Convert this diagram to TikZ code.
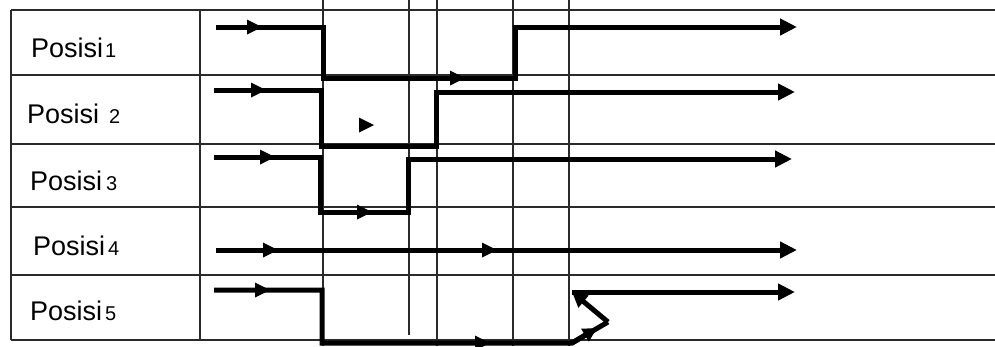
\documentclass[tikz,border=0pt]{standalone}
\usepackage{fontspec}
\setmainfont{Liberation Sans}
\usepackage{tikz}
\usetikzlibrary{arrows.meta}
\definecolor{gridline}{HTML}{2A2A2A}

\tikzset{
  gridln/.style={draw=gridline,line width=1.3pt},
  signal/.style={line width=5pt,line join=miter},
  endarr/.style={-{Triangle[length=17pt,width=16pt]}},
}
% small arrow head sitting on a signal line, tip at (#1,#2)
\newcommand{\midtip}[2]{\fill (#1,#2) -- ++(-15,-7.5) -- ++(0,15) -- cycle;}

\begin{document}
\begin{tikzpicture}[x=1pt,y=-1pt]
  \useasboundingbox (0,0) rectangle (995,346);
  \fill[white] (0,0) rectangle (995,346);

  % table
  \foreach \yy in {10,75,144,207,275,340}
    \draw[gridln] (11,\yy) -- (995,\yy);
  \draw[gridln] (11,10) -- (11,340);
  \draw[gridln] (200,10) -- (200,340);

  % time markers
  \foreach \xx/\yend in {323/346,409/335,437/346,513/346,569/346}
    \draw[gridln] (\xx,0) -- (\xx,\yend);

  % row labels
  \foreach \n/\base/\xx/\gap in {1/57/31/2pt,2/123/27/10pt,3/190/30/4pt,4/255/33/3pt,5/320/30/3pt}
    \node[anchor=base west,inner sep=0pt,font=\fontsize{27}{27}\selectfont] (pos\n) at (\xx,\base)
      {Posisi\hspace{\gap}{\fontsize{20}{20}\selectfont\n}};

  % Posisi 1
  \draw[signal,endarr] (216,27) -- (323,27) -- (323,78) -- (515,78) -- (515,27) -- (797,27);
  \midtip{262}{27} \midtip{465}{78}
  % Posisi 2
  \draw[signal,endarr] (214,90) -- (321,90) -- (321,146) -- (436,146) -- (436,92) -- (795,92);
  \midtip{266}{90} \midtip{374}{125}
  % Posisi 3
  \draw[signal,endarr] (214,157) -- (320,157) -- (320,212) -- (408,212) -- (408,159) -- (792,159);
  \midtip{275}{157} \midtip{372}{212}
  % Posisi 4
  \draw[signal,endarr] (216,250) -- (797,250);
  \midtip{278}{250} \midtip{497}{250}
  % Posisi 5
  \draw[signal] (214,290) -- (322,290) -- (322,343) -- (572,343) -- (608,322);
  \midtip{270}{290} \midtip{490}{343}
  \draw[signal,-{Triangle[length=14pt,width=14pt]}] (572,343) -- (597,328);
  \draw[signal,-{Triangle[length=15pt,width=15pt]}] (608,322) -- (572,292);
  \draw[signal,endarr] (572,292) -- (795,292);
\end{tikzpicture}
\end{document}
